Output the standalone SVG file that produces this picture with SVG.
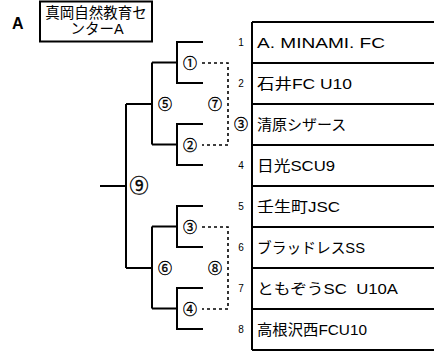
<svg xmlns="http://www.w3.org/2000/svg" width="434" height="351" viewBox="0 0 434 351">
<style>
text{font-family:"Liberation Sans","Noto Sans CJK JP",sans-serif;fill:#000}
.ln{stroke:#000;stroke-width:2;fill:none}
.ds{stroke:#000;stroke-width:1.6;fill:none;stroke-dasharray:3 3}
.team{font-size:15px}
.no{font-size:10px;text-anchor:middle}
.ci{font-family:"Noto Sans CJK JP","Noto Sans CJK SC",sans-serif;font-size:14px;text-anchor:middle;fill:#000;stroke:#000;stroke-width:0.35}
.big{font-size:19px}
.ttl{font-size:14.5px;text-anchor:middle}
.hd{font-family:"Liberation Sans",Arial,sans-serif;font-size:16px;font-weight:700}
</style>
<rect width="434" height="351" fill="#fff"/>
<g id="title">
<text class="hd" x="12" y="29">A</text>
<rect x="40" y="1.5" width="112" height="40" class="ln"/>
<text class="ttl" x="96" y="18">真岡自然教育セ</text>
<text class="ttl" x="97" y="34">ンターA</text>
</g>
<g id="table">
<path class="ln" d="M252,22V350M252,22H434M252,63H434M252,104H434M252,145H434M252,186H434M252,227H434M252,268H434M252,309H434M252,350H434"/>
</g>
<g id="teams">
<g id="t1"><text class="no" x="241" y="46">1</text><text class="team" x="257" y="48" textLength="128" lengthAdjust="spacingAndGlyphs">A. MINAMI. FC</text></g>
<g id="t2"><text class="no" x="241" y="87">2</text><text class="team" x="257" y="89" textLength="95" lengthAdjust="spacingAndGlyphs">石井FC U10</text></g>
<g id="t3"><text class="ci" x="241" y="129">③</text><text class="team" x="257" y="130">清原シザース</text></g>
<g id="t4"><text class="no" x="241" y="169">4</text><text class="team" x="257" y="171" textLength="78" lengthAdjust="spacingAndGlyphs">日光SCU9</text></g>
<g id="t5"><text class="no" x="241" y="210">5</text><text class="team" x="257" y="212" textLength="83" lengthAdjust="spacingAndGlyphs">壬生町JSC</text></g>
<g id="t6"><text class="no" x="241" y="251">6</text><text class="team" x="257" y="253" textLength="108" lengthAdjust="spacingAndGlyphs">ブラッドレスSS</text></g>
<g id="t7"><text class="no" x="241" y="292">7</text><text class="team" x="257" y="294" textLength="141" lengthAdjust="spacingAndGlyphs" xml:space="preserve">ともぞうSC  U10A</text></g>
<g id="t8"><text class="no" x="241" y="333">8</text><text class="team" x="257" y="335" textLength="110" lengthAdjust="spacingAndGlyphs">高根沢西FCU10</text></g>
</g>
<g id="connectors">
<path class="ln" d="M203,42H177V83H203M177,62.5H152M203,124H177V165H203M177,144.5H152M152,62.5V144.5M152,104H126M126,104V268M126,186H100"/>
<path class="ln" d="M203,206H177V247H203M177,226.5H152M203,288H177V329H203M177,308.5H152M152,226.5V308.5M152,268H126"/>
<path class="ds" d="M202,63H228V145H202"/>
<path class="ds" d="M202,227H228V309H202"/>
</g>
<g id="matches">
<rect x="181" y="53" width="19" height="20" fill="#fff"/>
<rect x="181" y="135" width="19" height="20" fill="#fff"/>
<rect x="181" y="217" width="19" height="20" fill="#fff"/>
<rect x="181" y="299" width="19" height="20" fill="#fff"/>
<text class="ci" x="190" y="68">①</text>
<text class="ci" x="190" y="150">②</text>
<text class="ci" x="190" y="232">③</text>
<text class="ci" x="190" y="314">④</text>
<text class="ci" x="165" y="109">⑤</text>
<text class="ci" x="165" y="273">⑥</text>
<text class="ci" x="215" y="109">⑦</text>
<text class="ci" x="215" y="273">⑧</text>
<text class="ci big" x="139" y="193">⑨</text>
</g>
</svg>
